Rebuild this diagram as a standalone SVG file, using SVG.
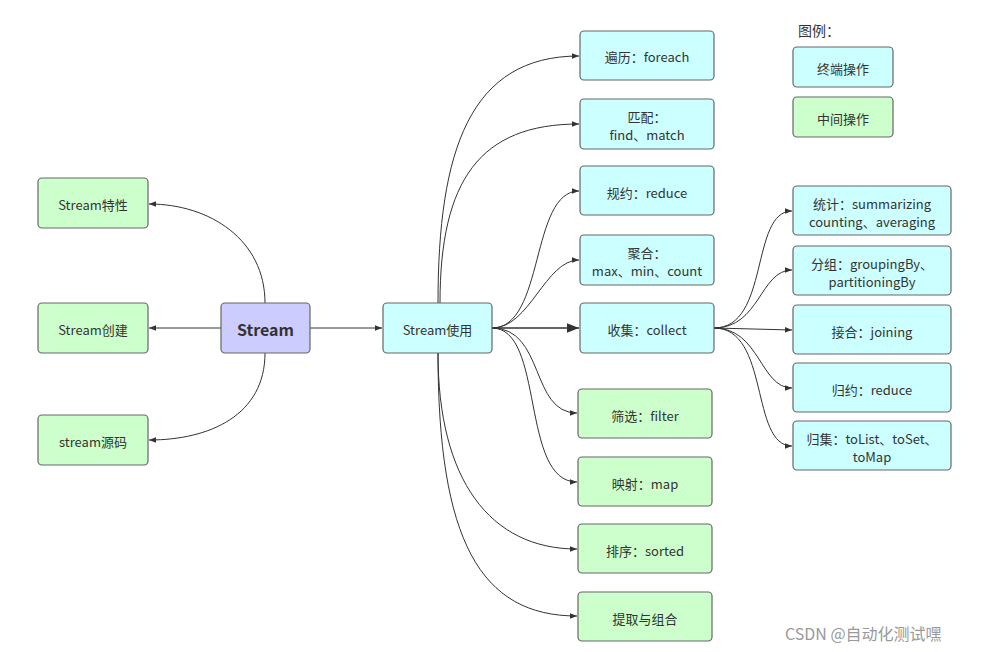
<svg xmlns="http://www.w3.org/2000/svg" width="992" height="652" viewBox="0 0 992 652">
<defs>
<marker id="ah" viewBox="0 0 10 10" refX="10" refY="5" markerWidth="7" markerHeight="7" markerUnits="userSpaceOnUse" orient="auto"><path d="M0,1 L10,5 L0,9 z" fill="#333"/></marker>
<marker id="ahb" viewBox="0 0 10 10" refX="10" refY="5" markerWidth="12" markerHeight="12" markerUnits="userSpaceOnUse" orient="auto"><path d="M0,1 L10,5 L0,9 z" fill="#333"/></marker>
</defs>
<style>
text{font-family:"Microsoft YaHei","Noto Sans CJK SC","Noto Sans",sans-serif;font-size:13px;fill:#333;text-anchor:middle;dominant-baseline:central}
.n rect{stroke:#666;stroke-width:1.2}
.t rect{fill:#ccffff}
.m rect{fill:#ccffcc}
.p rect{fill:#ccccff}
.c path{fill:none;stroke:#333;stroke-width:1;marker-end:url(#ah)}
.b{font-weight:bold;font-size:16px}
.wm{font-size:16px;fill:#999;text-anchor:start}
</style>
<rect width="992" height="652" fill="#fff"/>
<g class="c">
<path d="M265,303 C265,240 210,204 149,204"/>
<path d="M221,328 L149,328"/>
<path d="M265,353 C265,415 210,440 149,440"/>
<path d="M310,328 L382,328"/>
<path d="M438,303 C438,150 470,56 579,56"/>
<path d="M440,303 C440,180 480,124 579,124"/>
<path d="M492,328 C545,328 530,191 579,191"/>
<path d="M492,328 C530,328 545,260 579,260"/>
<path d="M492,328 L579,328" style="stroke-width:1.6;marker-end:url(#ahb)"/>
<path d="M492,328 C545,328 530,413 577,413"/>
<path d="M492,328 C545,328 520,482 577,482"/>
<path d="M438,353 C438,480 490,549 577,549"/>
<path d="M438,353 C438,540 480,616 577,616"/>
<path d="M714,328 C770,328 750,211 792,211"/>
<path d="M714,328 C760,328 760,270 792,270"/>
<path d="M714,328 L792,330"/>
<path d="M714,328 C760,328 760,388 792,388"/>
<path d="M714,328 C770,328 750,446 792,446"/>
</g>
<g id="n-tx" class="n m"><rect x="38" y="178" width="110" height="50" rx="4"/><text x="93" y="204">Stream特性</text></g>
<g id="n-cj" class="n m"><rect x="38" y="303" width="110" height="50" rx="4"/><text x="93" y="329">Stream创建</text></g>
<g id="n-ym" class="n m"><rect x="38" y="415" width="110" height="50" rx="4"/><text x="93" y="441">stream源码</text></g>
<g id="n-stream" class="n p"><rect x="221" y="303" width="89" height="50" rx="4"/><text x="265.5" y="329" class="b">Stream</text></g>
<g id="n-use" class="n t"><rect x="383" y="303" width="109" height="50" rx="4"/><text x="437.5" y="329">Stream使用</text></g>
<g id="n-foreach" class="n t"><rect x="580" y="31" width="134" height="49" rx="4"/><text x="647" y="56">遍历：foreach</text></g>
<g id="n-match" class="n t"><rect x="580" y="99" width="134" height="50" rx="4"/><text x="647" y="116">匹配：</text><text x="647" y="134">find、match</text></g>
<g id="n-reduce" class="n t"><rect x="580" y="166" width="134" height="49" rx="4"/><text x="647" y="192">规约：reduce</text></g>
<g id="n-agg" class="n t"><rect x="580" y="235" width="134" height="50" rx="4"/><text x="647" y="252">聚合：</text><text x="647" y="270">max、min、count</text></g>
<g id="n-collect" class="n t"><rect x="580" y="303" width="134" height="50" rx="4"/><text x="647" y="329">收集：collect</text></g>
<g id="n-filter" class="n m"><rect x="578" y="389" width="134" height="49" rx="4"/><text x="645" y="415">筛选：filter</text></g>
<g id="n-map" class="n m"><rect x="578" y="457" width="134" height="49" rx="4"/><text x="645" y="483">映射：map</text></g>
<g id="n-sorted" class="n m"><rect x="578" y="524" width="134" height="49" rx="4"/><text x="645" y="550">排序：sorted</text></g>
<g id="n-combine" class="n m"><rect x="578" y="592" width="134" height="49" rx="4"/><text x="645" y="618">提取与组合</text></g>
<g id="n-summ" class="n t"><rect x="793" y="186" width="158" height="49" rx="4"/><text x="872" y="203">统计：summarizing</text><text x="872" y="221">counting、averaging</text></g>
<g id="n-group" class="n t"><rect x="793" y="246" width="158" height="49" rx="4"/><text x="872" y="263">分组：groupingBy、</text><text x="872" y="281">partitioningBy</text></g>
<g id="n-join" class="n t"><rect x="793" y="305" width="158" height="49" rx="4"/><text x="872" y="331">接合：joining</text></g>
<g id="n-reduce2" class="n t"><rect x="793" y="363" width="158" height="49" rx="4"/><text x="872" y="389">归约：reduce</text></g>
<g id="n-tolist" class="n t"><rect x="793" y="421" width="158" height="49" rx="4"/><text x="872" y="438">归集：toList、toSet、</text><text x="872" y="456">toMap</text></g>
<g id="legend">
<text x="798" y="30" style="text-anchor:start;font-size:14px">图例：</text>
<g id="l-term" class="n t"><rect x="793" y="47" width="100" height="40" rx="4"/><text x="843" y="68">终端操作</text></g>
<g id="l-mid" class="n m"><rect x="793" y="97" width="100" height="40" rx="4"/><text x="843" y="118">中间操作</text></g>
</g>
<text x="785" y="633" class="wm">CSDN @自动化测试嘿</text>
</svg>
